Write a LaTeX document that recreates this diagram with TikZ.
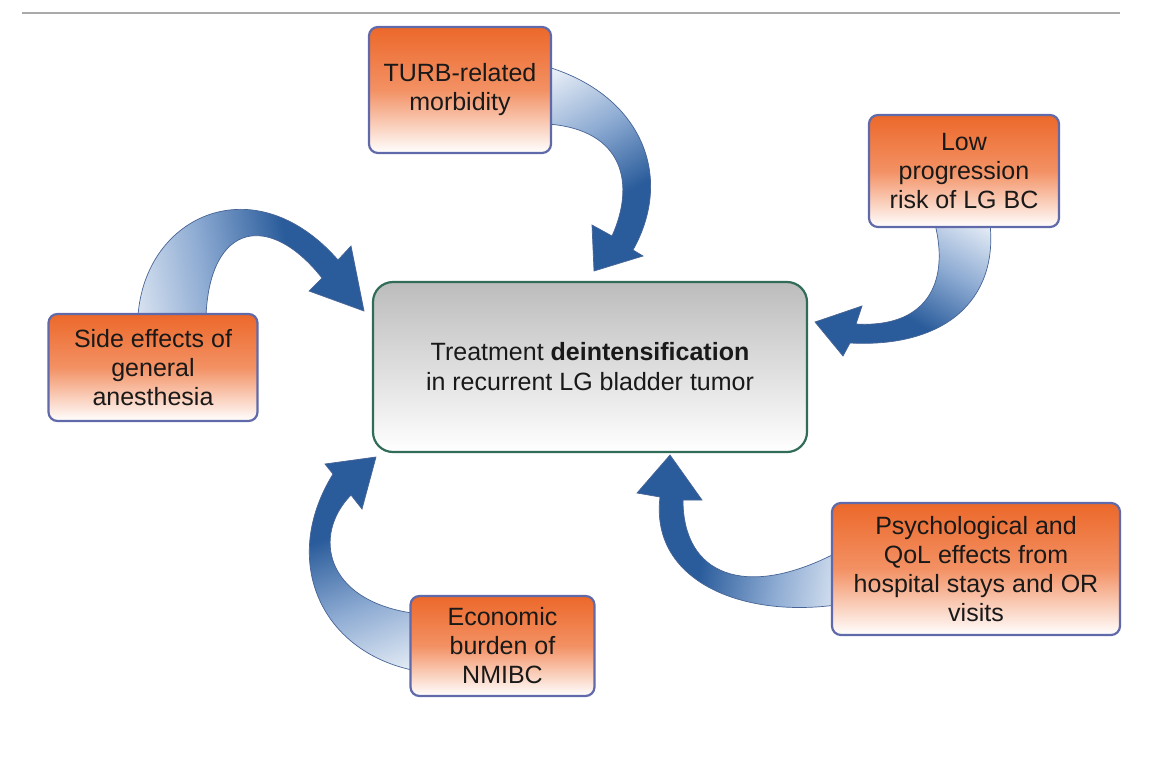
\documentclass[tikz,border=0pt]{standalone}
\usepackage{fontspec}
\setmainfont{Liberation Sans}
\definecolor{orangetop}{RGB}{236,104,42}
\definecolor{orangemid}{RGB}{243,145,100}
\definecolor{boxborder}{RGB}{96,106,170}
\definecolor{centborder}{RGB}{48,108,88}
\definecolor{centtop}{RGB}{188,188,188}
\definecolor{adark}{RGB}{42,92,155}
\definecolor{amid}{RGB}{140,170,210}
\definecolor{alight}{RGB}{242,246,251}
\definecolor{aline}{RGB}{70,100,150}
\definecolor{txt}{RGB}{25,25,25}
\definecolor{topline}{RGB}{170,170,170}
\pgfdeclareverticalshading{ribbonshade}{100bp}{color(0bp)=(adark); color(42bp)=(adark); color(62bp)=(amid); color(85bp)=(alight); color(100bp)=(alight)}
\begin{document}
\begin{tikzpicture}[x=1pt,y=-1pt,
  cause/.style={draw=boxborder, line width=2.2pt, rounded corners=9pt,
    top color=orangetop, bottom color=white, middle color=orangemid,
    align=center, text=txt, font=\fontsize{25}{29}\selectfont, inner sep=0pt},
  centre/.style={draw=centborder, line width=2.2pt, rounded corners=20pt,
    top color=centtop, bottom color=white,
    align=center, text=txt, font=\fontsize{25}{30}\selectfont, inner sep=0pt},
  ribbon/.style={shading=ribbonshade, draw=aline, line width=0.7pt},
  rule/.style={draw=topline, line width=2pt}]
\useasboundingbox (0,0) rectangle (1170,769);
\fill[white] (0,0) rectangle (1170,769);

\coordinate (ruleL) at (22,13);
\coordinate (ruleR) at (1120,13);
\draw[rule] (ruleL) -- (ruleR);

% arrows (drawn behind boxes)
\path[ribbon, shading angle=30] (548,67) .. controls (640,95) and (675,175) .. (633,250)
  -- (643,256) -- (594,271) -- (592,225) -- (612,236)
  .. controls (635,185) and (625,130) .. (548,124) -- cycle;

\path[ribbon, shading angle=-30] (990,224) .. controls (998,300) and (945,348) .. (850,343)
  -- (843,356) -- (815,322) -- (862,306) -- (856,324)
  .. controls (925,328) and (950,285) .. (935,224) -- cycle;

\path[ribbon, shading angle=100] (138,316) .. controls (145,215) and (255,165) .. (338,260)
  -- (351,246) -- (364,311) -- (309,291) -- (322,278)
  .. controls (270,212) and (210,222) .. (206,316) -- cycle;

\path[ribbon, shading angle=200] (412,670) .. controls (320,650) and (280,560) .. (333,474)
  -- (325,464) -- (376,457) -- (362,509) -- (351,495)
  .. controls (312,535) and (325,600) .. (412,613) -- cycle;

\path[ribbon, shading angle=-100] (836,605) .. controls (740,618) and (650,580) .. (660,497)
  -- (637,493) -- (670,455) -- (702,500) -- (683,500)
  .. controls (683,575) and (745,600) .. (836,553) -- cycle;

% boxes
\node[centre, minimum width=434pt, minimum height=170pt] (centre) at (590,367)
  {Treatment \textbf{deintensification}\\in recurrent LG bladder tumor};
\node[cause, minimum width=182pt, minimum height=126pt] (turb) at (460,90)
  {TURB-related\\morbidity};
\node[cause, minimum width=190pt, minimum height=112pt] (low) at (964,171)
  {Low\\progression\\risk of LG BC};
\node[cause, minimum width=209pt, minimum height=107pt] (side) at (153,367.5)
  {Side effects of\\general\\anesthesia};
\node[cause, minimum width=184pt, minimum height=100pt] (econ) at (502.5,646)
  {Economic\\burden of\\NMIBC};
\node[cause, minimum width=288pt, minimum height=132pt] (psych) at (976,569)
  {Psychological and\\QoL effects from\\hospital stays and OR\\visits};
\end{tikzpicture}
\end{document}
